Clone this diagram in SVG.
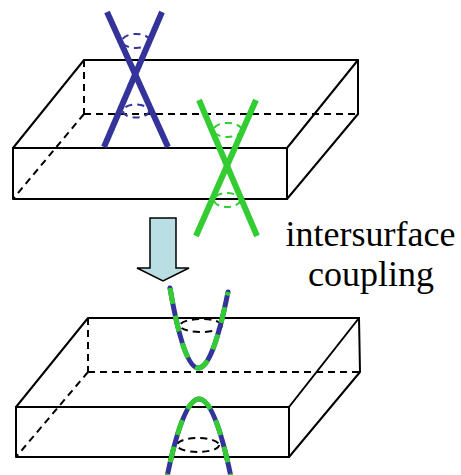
<svg xmlns="http://www.w3.org/2000/svg" width="461" height="475" viewBox="0 0 461 475">
  <style>
    .edge { fill: none; stroke: #000; stroke-width: 2; stroke-linecap: round; stroke-linejoin: round; }
    .hidden { fill: none; stroke: #000; stroke-width: 2; stroke-dasharray: 7 5; }
    .blue { fill: none; stroke: #333399; stroke-width: 6; }
    .green { fill: none; stroke: #33cc33; stroke-width: 6; }
    .ring-blue { fill: none; stroke: #333399; stroke-width: 2; stroke-dasharray: 7 5; }
    .ring-green { fill: none; stroke: #33cc33; stroke-width: 2; stroke-dasharray: 7 5; }
    .ring-black { fill: none; stroke: #000; stroke-width: 2; stroke-dasharray: 7 5; }
    .mixed-base { fill: none; stroke: #333399; stroke-width: 5; stroke-linecap: round; }
    .mixed-dash { fill: none; stroke: #33cc33; stroke-width: 5; stroke-dasharray: 16 12; }
    .label { font-family: "Liberation Serif", "Times New Roman", serif; font-size: 36px; fill: #000; text-anchor: middle; }
  </style>
  <rect width="461" height="475" fill="#fff"/>

  <!-- upper slab with two separate surface cones -->
  <g id="slab-top">
    <line class="hidden" x1="84" y1="60" x2="84" y2="114"/>
    <line class="hidden" x1="84" y1="114" x2="358" y2="114"/>
    <line class="hidden" x1="84" y1="114" x2="13" y2="199"/>
    <polyline class="edge" points="13,199 13,148 287,148 287,199 13,199"/>
    <polyline class="edge" points="13,148 84,60 358,60 287,148"/>
    <polyline class="edge" points="358,60 358,114 287,199"/>
  </g>

  <g id="cone-top-surface">
    <ellipse class="ring-blue" cx="136" cy="41" rx="14" ry="7"/>
    <ellipse class="ring-blue" cx="136" cy="111" rx="13" ry="6.5"/>
    <line class="blue" x1="107" y1="12" x2="168" y2="147"/>
    <line class="blue" x1="162" y1="12" x2="104" y2="147"/>
  </g>

  <g id="cone-bottom-surface">
    <ellipse class="ring-green" cx="227.5" cy="130" rx="14" ry="7"/>
    <ellipse class="ring-green" cx="227" cy="200" rx="13" ry="7"/>
    <line class="green" x1="199" y1="100" x2="257" y2="236"/>
    <line class="green" x1="256" y1="100" x2="196" y2="236"/>
  </g>

  <!-- label -->
  <g id="label">
    <text class="label" x="370.5" y="246">intersurface</text>
    <text class="label" x="371" y="286">coupling</text>
  </g>

  <!-- lower slab with gapped, hybridised bands -->
  <g id="slab-bottom">
    <line class="hidden" x1="88" y1="318" x2="88" y2="372"/>
    <line class="hidden" x1="88" y1="372" x2="360" y2="372"/>
    <line class="hidden" x1="88" y1="372" x2="16" y2="457"/>
    <polyline class="edge" points="16,457 16,407 289,407 289,457 16,457"/>
    <polyline class="edge" points="16,407 88,318 359,318 289,407"/>
    <polyline class="edge" points="359,318 360,372 289,457"/>
  </g>

  <g id="band-upper">
    <ellipse class="ring-black" cx="201" cy="325.5" rx="21" ry="6.5"/>
    <path class="mixed-base" d="M170,288 Q197,446 228,292"/>
    <path class="mixed-dash" d="M170,288 Q197,446 228,292"/>
  </g>

  <g id="band-lower">
    <ellipse class="ring-black" cx="198" cy="445" rx="21" ry="7"/>
    <path class="mixed-base" d="M166,482 Q199,316 232,482"/>
    <!-- dashes start at the apex, running down each branch -->
    <path class="mixed-dash" d="M199,399 Q215.5,399 232,482 M199,399 Q182.5,399 166,482"/>
  </g>

  <!-- connectors -->
  <g id="connectors">
    <path d="M150,218 H176 V268 H189 L163,281 L137,268 H150 Z" fill="#b9dee3" stroke="#000" stroke-width="1.5" stroke-linejoin="miter"/>
  </g>
</svg>
